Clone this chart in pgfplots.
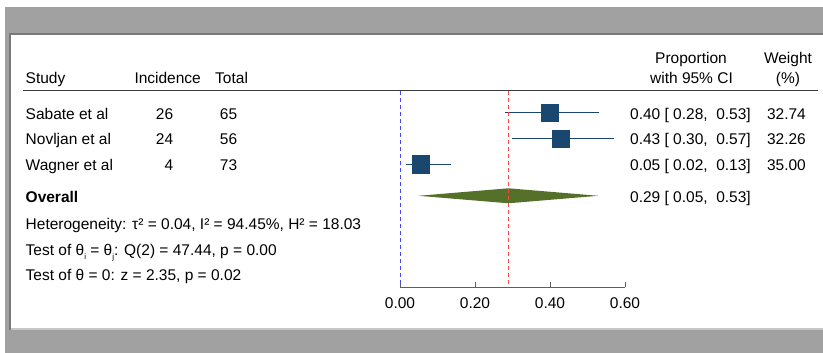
\documentclass[border=0pt]{standalone}
\usepackage{pgfplots}
\pgfplotsset{compat=1.18}
\usepackage{fontspec}
\setmainfont{Liberation Sans}
\definecolor{stnavy}{RGB}{26,71,111}
\definecolor{ovgreen}{RGB}{85,113,41}
\definecolor{framegray}{RGB}{161,161,161}
\definecolor{axgray}{RGB}{95,95,95}
\definecolor{rulegray}{RGB}{60,60,60}
\definecolor{refblue}{RGB}{70,70,255}
\definecolor{refred}{RGB}{255,70,70}
\newcommand{\lsub}[1]{\raisebox{-0.55ex}{\fontsize{8}{9}\selectfont #1}}
\begin{document}
\fontsize{15.5}{18.6}\selectfont
\begin{tikzpicture}
\begin{scope}[x=1pt,y=1pt]
\fill[white] (0,0) rectangle (823,-353);
\fill[framegray] (5,-7) rectangle (823,-353);
\fill[framegray!75!black] (9,-33) rectangle (823,-35);
\fill[framegray!75!black] (9,-33) rectangle (11,-330);
\fill[framegray!60!white] (11,-328) rectangle (823,-330);
\fill[white] (11,-35) rectangle (823,-328);
\end{scope}
\begin{axis}[
  at={(400pt,-287pt)}, anchor=south west,
  scale only axis, width=225pt, height=196pt,
  xmin=0, xmax=0.6, ymin=-287, ymax=-91,
  enlargelimits=false, clip=false,
  axis x line=bottom, axis y line=none,
  x axis line style={-, draw=axgray, line width=1pt},
  xtick={0,0.2,0.4,0.6},
  xticklabels={0.00,0.20,0.40,0.60},
  xtick align=inside, major tick length=5pt,
  xtick style={draw=axgray, line width=0.8pt},
  xticklabel style={anchor=base, yshift=-21.5pt, inner sep=0pt},
]
% reference lines
\addplot[refblue, line width=1pt, dash pattern=on 4pt off 3pt] coordinates {(0,-91) (0,-287)};
% confidence intervals
\addplot[stnavy, line width=1.2pt] coordinates {(0.280,-112.5) (0.531,-112.5)};
\addplot[stnavy, line width=1.2pt] coordinates {(0.298,-138.7) (0.571,-138.7)};
\addplot[stnavy, line width=1.2pt] coordinates {(0.016,-164.5) (0.135,-164.5)};
% study estimates
\addplot[only marks, mark=square*, mark size=8.6pt, mark options={fill=stnavy, draw=stnavy}] coordinates {(0.400,-112.5)};
\addplot[only marks, mark=square*, mark size=8.55pt, mark options={fill=stnavy, draw=stnavy}] coordinates {(0.4286,-138.7)};
\addplot[only marks, mark=square*, mark size=8.85pt, mark options={fill=stnavy, draw=stnavy}] coordinates {(0.0548,-164.5)};
% overall diamond
\addplot[fill=ovgreen, draw=none] coordinates {(0.049,-195.8) (0.289,-188.3) (0.529,-195.8) (0.289,-203.3)} -- cycle;
\addplot[refred, line width=1pt, dash pattern=on 4pt off 3pt] coordinates {(0.289,-91) (0.289,-287)};
\end{axis}
\begin{scope}[x=1pt,y=1pt, every node/.style={inner sep=0pt}]
\draw[rulegray, line width=1.3pt] (23,-90.5) -- (818,-90.5);
% header
\node[anchor=base west] at (25.5,-84) {Study};
\node[anchor=base west] at (134.3,-84) {Incidence};
\node[anchor=base west] at (215,-84) {Total};
\node[anchor=base] at (691,-63.3) {Proportion};
\node[anchor=base] at (691.5,-84) {with 95\% CI};
\node[anchor=base] at (788,-63.3) {Weight};
\node[anchor=base] at (788,-84) {(\%)};
% rows
\node[anchor=base west] at (25.5,-119.3) {Sabate et al};
\node[anchor=base west] at (25.5,-145) {Novljan et al};
\node[anchor=base west] at (25.5,-170.5) {Wagner et al};
\node[anchor=base east] at (173.4,-119.3) {26};
\node[anchor=base east] at (173.4,-145) {24};
\node[anchor=base east] at (173.4,-170.5) {4};
\node[anchor=base east] at (237.4,-119.3) {65};
\node[anchor=base east] at (237.4,-145) {56};
\node[anchor=base east] at (237.4,-170.5) {73};
\node[anchor=base east] at (751,-119.3) {0.40 [~0.28,~~0.53]};
\node[anchor=base east] at (751,-145) {0.43 [~0.30,~~0.57]};
\node[anchor=base east] at (751,-170.5) {0.05 [~0.02,~~0.13]};
\node[anchor=base east] at (806,-119.3) {32.74};
\node[anchor=base east] at (806,-145) {32.26};
\node[anchor=base east] at (806,-170.5) {35.00};
% overall
\node[anchor=base west] at (25.5,-202.3) {\bfseries Overall};
\node[anchor=base east] at (751,-202.3) {0.29 [~0.05,~~0.53]};
\node[anchor=base west] at (25.5,-229) {Heterogeneity: τ² = 0.04, I² = 94.45\%, H² = 18.03};
\node[anchor=base west] at (25.5,-255) {Test of θ\lsub{i} = θ\lsub{j}: Q(2) = 47.44, p = 0.00};
\node[anchor=base west] at (25.5,-280.3) {Test of θ = 0: z = 2.35, p = 0.02};
\end{scope}
\end{tikzpicture}
\end{document}
